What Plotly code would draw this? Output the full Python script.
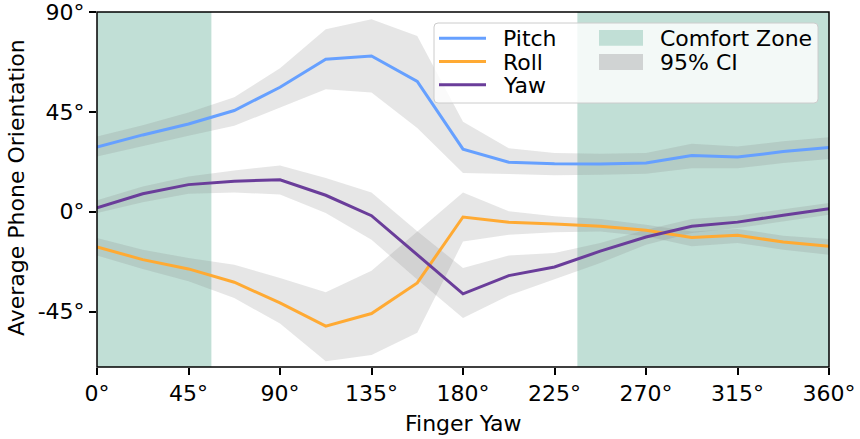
import plotly.graph_objects as go

# ---- data ----
finger_yaw = [0, 22.5, 45, 67.5, 90, 112.5, 135, 157.5, 180,
              202.5, 225, 247.5, 270, 292.5, 315, 337.5, 360]

pitch    = [29.1, 34.6, 39.5, 45.6, 56.1, 68.7, 70.2, 58.7, 28.2,
            22.3, 21.6, 21.5, 21.9, 25.3, 24.6, 27.1, 28.9]
pitch_hi = [33.9, 39.0, 44.7, 51.6, 64.7, 82.2, 86.7, 79.2, 40.5,
            28.6, 26.4, 26.1, 26.4, 30.6, 29.4, 31.7, 33.5]
pitch_lo = [24.9, 29.7, 34.2, 38.7, 47.1, 55.2, 53.7, 37.7, 17.4,
            17.0, 16.4, 16.7, 17.1, 19.6, 19.6, 21.9, 23.7]

roll    = [-15.9, -21.6, -25.8, -31.8, -41.1, -51.6, -45.9, -32.1, -2.4,
           -4.8, -5.6, -6.6, -8.4, -11.6, -10.6, -13.7, -15.6]
roll_hi = [-11.9, -17.1, -20.9, -23.9, -29.9, -36.3, -26.6, -8.8, 8.6,
           0.2, -2.1, -3.3, -5.9, -8.9, -7.8, -10.8, -12.3]
roll_lo = [-19.8, -25.8, -31.4, -38.9, -50.4, -67.4, -64.6, -54.6, -13.4,
           -10.4, -9.3, -8.9, -11.1, -15.6, -14.1, -17.1, -19.4]

yaw    = [1.7, 8.1, 12.2, 13.7, 14.4, 7.4, -1.8, -19.4, -37.0,
          -28.8, -24.9, -17.8, -11.4, -6.6, -4.7, -1.6, 1.35]
yaw_hi = [5.1, 11.4, 15.9, 18.6, 20.8, 15.2, 8.6, -8.8, -25.4,
          -19.8, -18.6, -14.1, -8.1, -3.3, -1.8, 0.9, 3.9]
yaw_lo = [-0.6, 4.2, 8.1, 8.7, 7.7, -0.6, -12.6, -30.6, -47.9,
          -37.8, -30.6, -23.1, -14.9, -9.6, -7.4, -4.4, -1.35]

comfort_start = [0, 236.25]
comfort_end = [56.25, 360]

x_ticks = [0, 45, 90, 135, 180, 225, 270, 315, 360]
x_tick_labels = ["0°", "45°", "90°", "135°", "180°", "225°", "270°", "315°", "360°"]
y_ticks = [-45, 0, 45, 90]
y_tick_labels = ["-45°", "0°", "45°", "90°"]

series_names = ["Pitch", "Roll", "Yaw"]
zone_labels = ["Comfort Zone", "95% CI"]

# ---- styles ----
FONT = "DejaVu Sans"
FS = 22
C_PITCH = "#66a0ff"
C_ROLL = "#ffaa33"
C_YAW = "#6a3d9a"
C_ZONE = "#c1dfd6"
C_CI = "rgba(128,128,128,0.2)"

fig = go.Figure()

series = [(pitch, pitch_lo, pitch_hi, C_PITCH),
          (roll, roll_lo, roll_hi, C_ROLL),
          (yaw, yaw_lo, yaw_hi, C_YAW)]

for vals, lo, hi, col in series:
    fig.add_trace(go.Scatter(
        x=finger_yaw + finger_yaw[::-1],
        y=hi + lo[::-1],
        fill="toself", fillcolor=C_CI, line=dict(width=0),
        mode="lines", hoverinfo="skip", showlegend=False))

for (vals, lo, hi, col), name in zip(series, series_names):
    fig.add_trace(go.Scatter(
        x=finger_yaw, y=vals, mode="lines", name=name,
        line=dict(color=col, width=3), showlegend=False))

for s, e in zip(comfort_start, comfort_end):
    fig.add_shape(type="rect", xref="x", yref="paper", x0=s, x1=e, y0=0, y1=1,
                  fillcolor=C_ZONE, line=dict(width=0), layer="below")

# axes frame
fig.add_shape(type="rect", xref="paper", yref="paper", x0=0, x1=1, y0=0, y1=1,
              line=dict(color="black", width=1.5), fillcolor="rgba(0,0,0,0)",
              layer="above")

# ---- manual legend (matplotlib style) ----
L, R, T, B = 97, 829, 12, 367
W, H = R - L, B - T


def px(xp):
    return (xp - L) / W


def py(yp):
    return (B - yp) / H


bx0, bx1, by0, by1 = 434, 818, 23, 103
r = 4
path = (f"M {px(bx0 + r)},{py(by0)} L {px(bx1 - r)},{py(by0)} "
        f"Q {px(bx1)},{py(by0)} {px(bx1)},{py(by0 + r)} "
        f"L {px(bx1)},{py(by1 - r)} Q {px(bx1)},{py(by1)} {px(bx1 - r)},{py(by1)} "
        f"L {px(bx0 + r)},{py(by1)} Q {px(bx0)},{py(by1)} {px(bx0)},{py(by1 - r)} "
        f"L {px(bx0)},{py(by0 + r)} Q {px(bx0)},{py(by0)} {px(bx0 + r)},{py(by0)} Z")
fig.add_shape(type="path", xref="paper", yref="paper", path=path,
              fillcolor="rgba(255,255,255,0.8)", line=dict(color="#cccccc", width=1),
              layer="above")

row_y = [38.3, 61.5, 84.7]
for name, col, yy in zip(series_names, [C_PITCH, C_ROLL, C_YAW], row_y):
    fig.add_shape(type="line", xref="paper", yref="paper",
                  x0=px(439), x1=px(486), y0=py(yy), y1=py(yy),
                  line=dict(color=col, width=3), layer="above")
    fig.add_annotation(xref="paper", yref="paper", x=px(501), y=py(yy + 0.5),
                       text=name, showarrow=False, xanchor="left", yanchor="middle",
                       font=dict(family=FONT, size=FS, color="black"))

patch_y = [(30, 45.7), (54, 70)]
for lab, col, (y0, y1) in zip(zone_labels, [C_ZONE, "#d0d3d3"], patch_y):
    fig.add_shape(type="rect", xref="paper", yref="paper",
                  x0=px(599), x1=px(643), y0=py(y1), y1=py(y0),
                  fillcolor=col, line=dict(width=0), layer="above")
    fig.add_annotation(xref="paper", yref="paper", x=px(658), y=py((y0 + y1) / 2 + 0.5),
                       text=lab, showarrow=False, xanchor="left", yanchor="middle",
                       font=dict(family=FONT, size=FS, color="black"))

axis_common = dict(showgrid=False, zeroline=False, showline=False,
                   ticks="outside", ticklen=7,
                   tickwidth=1.5, tickcolor="black", automargin=False,
                   ticklabeloverflow="allow",
                   tickfont=dict(family=FONT, size=FS, color="black"))

fig.update_xaxes(range=[0, 360], tickvals=x_ticks, ticktext=x_tick_labels,
                 **axis_common)
fig.update_yaxes(range=[-70, 90], tickvals=y_ticks, ticktext=y_tick_labels,
                 **axis_common)

# axis titles
fig.add_annotation(xref="paper", yref="paper", x=0.5, y=py(423),
                   text="Finger Yaw", showarrow=False, xanchor="center", yanchor="middle",
                   font=dict(family=FONT, size=FS, color="black"))
fig.add_annotation(xref="paper", yref="paper", x=px(16), y=py(188),
                   text="Average Phone Orientation", showarrow=False, textangle=-90,
                   xanchor="center", yanchor="middle",
                   font=dict(family=FONT, size=FS, color="black"))

fig.update_layout(width=860, height=439, margin=dict(l=L, r=860 - R, t=T, b=439 - B),
                  plot_bgcolor="white", paper_bgcolor="white",
                  font=dict(family=FONT, size=FS, color="black"), showlegend=False)

fig.write_html("out.html")
